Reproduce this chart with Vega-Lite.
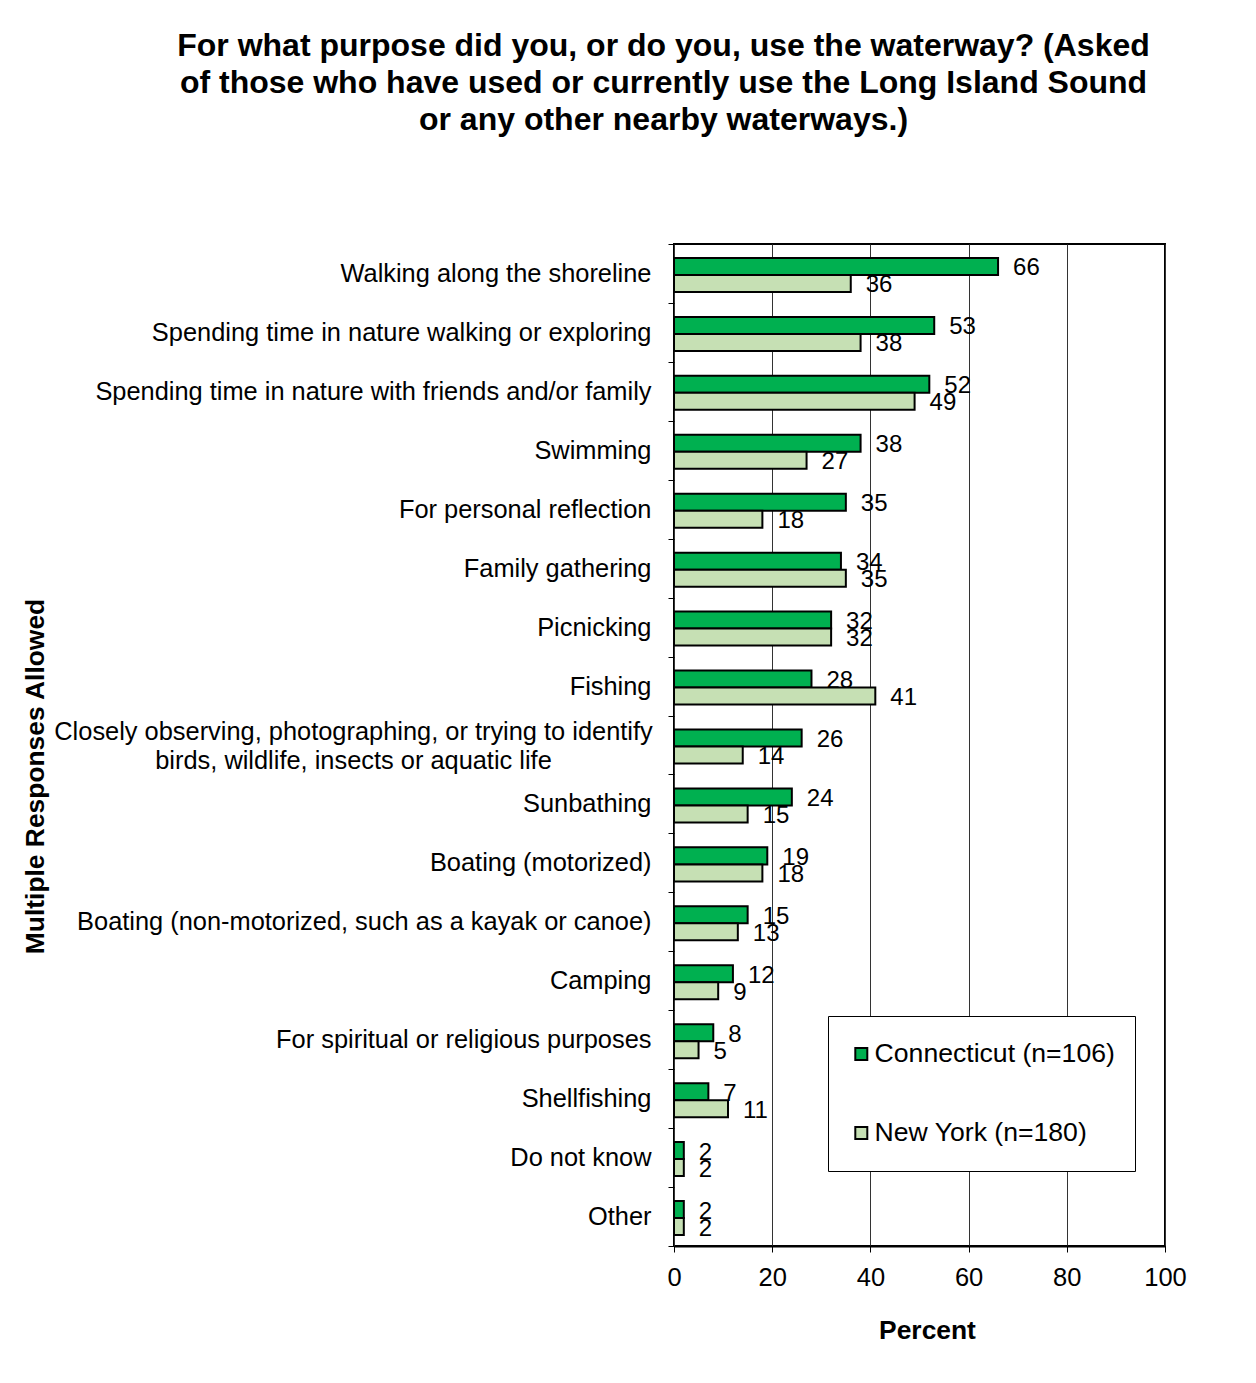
{
  "$schema": "https://vega.github.io/schema/vega-lite/v6.json",
  "autosize": {"type": "none"},
  "width": 491,
  "height": 1002,
  "padding": {"left": 674, "top": 244, "right": 91, "bottom": 137},
  "background": "white",
  "title": {
    "text": ["For what purpose did you, or do you, use the waterway? (Asked", "of those who have used or currently use the Long Island Sound", "or any other nearby waterways.)"],
    "font": "Liberation Sans",
    "fontSize": 32,
    "fontWeight": "bold",
    "lineHeight": 37,
    "anchor": "middle",
    "frame": "group",
    "dx": -256,
    "offset": 95,
    "color": "black"
  },
  "data": {
    "values": [
      {"purpose": "Walking along the shoreline", "state": "Connecticut (n=106)", "percent": 66},
      {"purpose": "Walking along the shoreline", "state": "New York (n=180)", "percent": 36},
      {"purpose": "Spending time in nature walking or exploring", "state": "Connecticut (n=106)", "percent": 53},
      {"purpose": "Spending time in nature walking or exploring", "state": "New York (n=180)", "percent": 38},
      {"purpose": "Spending time in nature with friends and/or family", "state": "Connecticut (n=106)", "percent": 52},
      {"purpose": "Spending time in nature with friends and/or family", "state": "New York (n=180)", "percent": 49},
      {"purpose": "Swimming", "state": "Connecticut (n=106)", "percent": 38},
      {"purpose": "Swimming", "state": "New York (n=180)", "percent": 27},
      {"purpose": "For personal reflection", "state": "Connecticut (n=106)", "percent": 35},
      {"purpose": "For personal reflection", "state": "New York (n=180)", "percent": 18},
      {"purpose": "Family gathering", "state": "Connecticut (n=106)", "percent": 34},
      {"purpose": "Family gathering", "state": "New York (n=180)", "percent": 35},
      {"purpose": "Picnicking", "state": "Connecticut (n=106)", "percent": 32},
      {"purpose": "Picnicking", "state": "New York (n=180)", "percent": 32},
      {"purpose": "Fishing", "state": "Connecticut (n=106)", "percent": 28},
      {"purpose": "Fishing", "state": "New York (n=180)", "percent": 41},
      {"purpose": "Closely observing, photographing, or trying to identify birds, wildlife, insects or aquatic life", "state": "Connecticut (n=106)", "percent": 26},
      {"purpose": "Closely observing, photographing, or trying to identify birds, wildlife, insects or aquatic life", "state": "New York (n=180)", "percent": 14},
      {"purpose": "Sunbathing", "state": "Connecticut (n=106)", "percent": 24},
      {"purpose": "Sunbathing", "state": "New York (n=180)", "percent": 15},
      {"purpose": "Boating (motorized)", "state": "Connecticut (n=106)", "percent": 19},
      {"purpose": "Boating (motorized)", "state": "New York (n=180)", "percent": 18},
      {"purpose": "Boating (non-motorized, such as a kayak or canoe)", "state": "Connecticut (n=106)", "percent": 15},
      {"purpose": "Boating (non-motorized, such as a kayak or canoe)", "state": "New York (n=180)", "percent": 13},
      {"purpose": "Camping", "state": "Connecticut (n=106)", "percent": 12},
      {"purpose": "Camping", "state": "New York (n=180)", "percent": 9},
      {"purpose": "For spiritual or religious purposes", "state": "Connecticut (n=106)", "percent": 8},
      {"purpose": "For spiritual or religious purposes", "state": "New York (n=180)", "percent": 5},
      {"purpose": "Shellfishing", "state": "Connecticut (n=106)", "percent": 7},
      {"purpose": "Shellfishing", "state": "New York (n=180)", "percent": 11},
      {"purpose": "Do not know", "state": "Connecticut (n=106)", "percent": 2},
      {"purpose": "Do not know", "state": "New York (n=180)", "percent": 2},
      {"purpose": "Other", "state": "Connecticut (n=106)", "percent": 2},
      {"purpose": "Other", "state": "New York (n=180)", "percent": 2}
    ]
  },
  "encoding": {
    "y": {
      "field": "purpose",
      "type": "nominal",
      "sort": null,
      "scale": {"paddingInner": 0, "paddingOuter": 0},
      "axis": {
        "title": "Multiple Responses Allowed",
        "titleFont": "Liberation Sans",
        "titleFontSize": 26.4,
        "titleFontWeight": "bold",
        "titleColor": "black",
        "titleAngle": -90,
        "titleAlign": "center",
        "titleBaseline": "middle",
        "titleX": -639,
        "titleY": 532,
        "labelFont": "Liberation Sans",
        "labelFontSize": 25.4,
        "labelColor": "black",
        "labelLimit": 700,
        "labelPadding": {"condition": {"test": "datum.value == 'Closely observing, photographing, or trying to identify birds, wildlife, insects or aquatic life'", "value": 315}, "value": 17},
        "labelAlign": {"condition": {"test": "datum.value == 'Closely observing, photographing, or trying to identify birds, wildlife, insects or aquatic life'", "value": "center"}, "value": "right"},
        "labelOffset": {"condition": {"test": "datum.value == 'Closely observing, photographing, or trying to identify birds, wildlife, insects or aquatic life'", "value": -14}, "value": 0},
        "labelLineHeight": 29,
        "labelExpr": "datum.label == 'Closely observing, photographing, or trying to identify birds, wildlife, insects or aquatic life' ? ['Closely observing, photographing, or trying to identify', 'birds, wildlife, insects or aquatic life'] : datum.label",
        "tickBand": "extent",
        "tickSize": 6,
        "tickColor": "black",
        "domain": false,
        "grid": false
      }
    },
    "yOffset": {
      "field": "state",
      "type": "nominal",
      "scale": {"paddingInner": 0, "paddingOuter": 0.733, "align": 0.56}
    },
    "x": {
      "field": "percent",
      "type": "quantitative",
      "scale": {"domain": [0, 100], "nice": false},
      "axis": {
        "title": "Percent",
        "titleFont": "Liberation Sans",
        "titleFontSize": 26.4,
        "titleFontWeight": "bold",
        "titleColor": "black",
        "titleAlign": "center",
        "titleBaseline": "middle",
        "titleX": 253,
        "titleY": 84,
        "values": [0, 20, 40, 60, 80, 100],
        "labelFont": "Liberation Sans",
        "labelFontSize": 25.5,
        "labelColor": "black",
        "labelPadding": 13,
        "labelFlush": false,
        "tickSize": 6,
        "tickColor": "black",
        "domainColor": "black",
        "domainWidth": 2,
        "grid": true,
        "gridColor": "#333333"
      }
    }
  },
  "layer": [
    {
      "mark": {"type": "bar", "stroke": "black", "strokeWidth": 2},
      "encoding": {
        "color": {
          "field": "state",
          "type": "nominal",
          "scale": {"domain": ["Connecticut (n=106)", "New York (n=180)"], "range": ["#00B050", "#C6E0B4"]},
          "legend": {
            "title": null,
            "orient": "none",
            "legendX": 154,
            "legendY": 772,
            "padding": 20,
            "clipHeight": 36,
            "fillColor": "white",
            "strokeColor": "black",
            "symbolType": "square",
            "symbolSize": 144,
            "symbolStrokeColor": "black",
            "symbolStrokeWidth": 2,
            "labelFont": "Liberation Sans",
            "labelFontSize": 26.6,
            "labelColor": "black",
            "labelOffset": 0,
            "labelLimit": 400,
            "rowPadding": 43
          }
        }
      }
    },
    {
      "mark": {"type": "text", "align": "left", "baseline": "middle", "dx": 15, "dy": 2, "font": "Liberation Sans", "fontSize": 24, "color": "black"},
      "encoding": {
        "text": {"field": "percent", "type": "quantitative"}
      }
    }
  ],
  "config": {
    "view": {"stroke": "black", "strokeWidth": 2}
  }
}
